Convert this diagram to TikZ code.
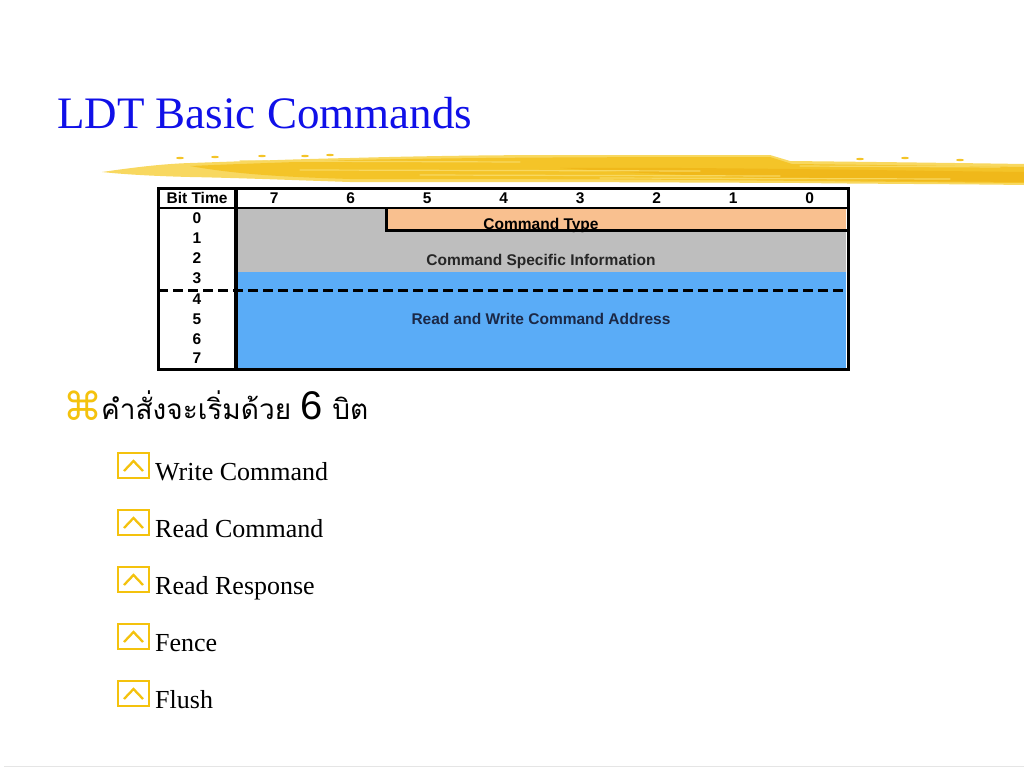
\documentclass[tikz,border=0pt]{standalone}
\usepackage{fontspec}
\setmainfont{Liberation Serif}
\newfontfamily\thaifont[Script=Thai]{Loma}
\newfontfamily\arialf{Liberation Sans}
\newfontfamily\djv{DejaVu Sans}
\definecolor{titleblue}{HTML}{1010E8}
\definecolor{grayc}{HTML}{BEBEBE}
\definecolor{bluec}{HTML}{5AACF7}
\definecolor{orangec}{HTML}{F9C08F}
\definecolor{navytxt}{HTML}{1B2846}
\definecolor{bulletyel}{HTML}{F4C20D}
\definecolor{brushA}{HTML}{F8D860}
\definecolor{brushB}{HTML}{F4C428}
\definecolor{brushC}{HTML}{EEB012}
\tikzset{
  tbl/.style={font=\arialf\bfseries\fontsize{15.5}{16}\selectfont, inner sep=0pt},
  rule/.style={line width=3pt, black},
  item/.style={anchor=base west, inner sep=0pt, font=\fontsize{26}{28}\selectfont},
  icon/.style={draw=bulletyel, line width=2.6pt},
  streak/.style={line cap=round},
}
\begin{document}
\begin{tikzpicture}[x=1pt,y=-1pt]
\useasboundingbox (0,0) rectangle (1024,768);
\fill[white] (0,0) rectangle (1024,768);

% title
\node[anchor=base west, inner sep=0pt, text=titleblue, font=\fontsize{45}{48}\selectfont] (title) at (57,128) {LDT Basic Commands};

% yellow brush stroke
\fill[brushA] (102,172) .. controls (130,168) and (160,164) .. (190,163) .. controls (250,161) and (300,159) .. (350,158) .. controls (420,156) and (500,155) .. (560,155) -- (770,155) -- (790,161) .. controls (880,162) and (960,163) .. (1024,164) -- (1024,185) .. controls (950,184) and (880,184) .. (800,183) -- (560,182) -- (350,182) .. controls (290,180) and (240,178) .. (190,177) .. controls (150,176) and (120,174) .. (102,172) -- cycle;
\fill[brushB] (190,166) .. controls (260,163) and (330,161) .. (350,160) .. controls (450,158) and (550,157) .. (770,157) -- (792,164) .. controls (880,165) and (960,166) .. (1024,167) -- (1024,183) .. controls (900,182) and (820,181) .. (700,180) .. controls (560,179) and (420,179) .. (350,179) .. controls (290,177) and (240,175) .. (190,166) -- cycle;
\fill[brushC, opacity=0.6] (560,168) .. controls (700,167) and (850,170) .. (1024,172) -- (1024,182) .. controls (880,181) and (720,179) .. (560,168) -- cycle;
\foreach \ya/\yb/\xa/\xb in {161/162/240/520,170/171/300/700,175/176/420/780,166/167/800/1000,178/179/600/950}
  \draw[brushA, line width=1.2pt, streak] (\xa,\ya) -- (\xb,\yb);
\foreach \px/\py in {180/158,215/157,262/156,305/156,330/155,860/159,905/158,960/160}
  \fill[brushB] (\px,\py) ellipse (4pt and 1.2pt);

% table fills
\fill[grayc] (236,208) rectangle (846,272);
\fill[bluec] (236,272) rectangle (846,368);
\fill[orangec] (386,208) rectangle (846,230);

\node[tbl, anchor=base] (ctype) at (541,229) {Command Type};
\node[tbl, text=black!85] (csi) at (541,261) {Command Specific Information};
\node[tbl, text=navytxt] (rwca) at (541,319) {Read and Write Command Address};

% table lines
\draw[rule] (386,208) -- (386,230) -- (847,230);
\draw[line width=3pt, dash pattern=on 10pt off 5pt] (158,290) -- (848,290);
\draw[line width=2.5pt] (158,208) -- (848,208);
\draw[line width=3.5pt] (236,188) -- (236,369);
\draw[rule] (158,188) rectangle (848,369);

% header
\node[tbl] (hbt) at (197,198) {Bit Time};
\foreach \k/\lab in {0/7,1/6,2/5,3/4,4/3,5/2,6/1,7/0}
  \node[tbl] (h\lab) at ({236+76.5*(\k+0.5)},198) {\lab};
% rows
\foreach \r/\yy in {0/218,1/238,2/258,3/278,4/299,5/319,6/339,7/358}
  \node[tbl] (r\r) at (197,\yy) {\r};

% main bullet
\node[anchor=base west, inner sep=0pt, text=bulletyel, font=\djv\fontsize{39}{40}\selectfont] (cmd) at (63,420) {⌘};
\node[anchor=base west, inner sep=0pt] (thai) at (101,419)
  {{\thaifont\fontsize{28}{32}\selectfont คำสั่งจะเริ่มด้วย }{\arialf\fontsize{40}{40}\selectfont 6}{\thaifont\fontsize{28}{32}\selectfont\ บิต}};

% sub items
\foreach \i/\txt/\yb in {1/Write Command/480,2/Read Command/537,3/Read Response/594,4/Fence/651,5/Flush/708}{
  \draw[icon] (118,\yb-27) rectangle (149,\yb-2);
  \draw[draw=bulletyel, line width=2.3pt] (124,\yb-9) -- (133.5,\yb-19) -- (143,\yb-9);
  \node[item] (it\i) at (155,\yb) {\txt};
}

% bottom rule
\draw[black!10, line width=1.5pt] (4,766.5) -- (1024,766.5);
\end{tikzpicture}
\end{document}
